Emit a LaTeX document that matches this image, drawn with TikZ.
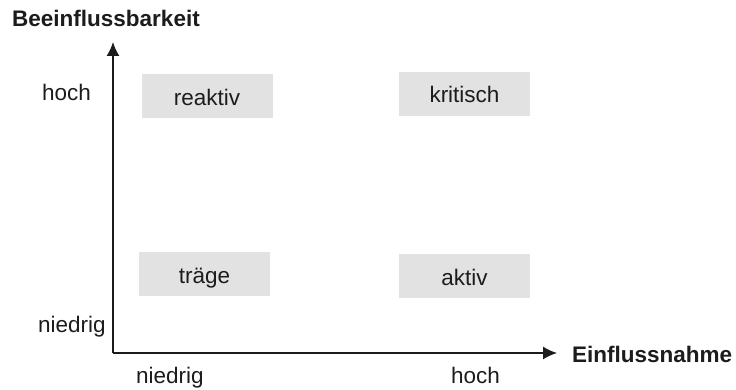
\documentclass[tikz,border=0pt]{standalone}
\usepackage{fontspec}
\setmainfont{Liberation Sans}
\usetikzlibrary{arrows.meta}
\definecolor{inkgray}{HTML}{1C1C1C}
\definecolor{boxgray}{HTML}{E2E2E2}
\begin{document}
\begin{tikzpicture}[x=1pt,y=-1pt,
  every node/.style={inner sep=0pt,text=inkgray,font=\fontsize{22.5}{26}\selectfont},
  quadrant/.style={fill=boxgray,draw=none,minimum width=131pt,minimum height=44pt,
    text height=18pt,text depth=0pt},
  axislabel/.style={anchor=base west},
  axistitle/.style={anchor=base west,font=\fontsize{22.5}{26}\selectfont\bfseries},
  axisline/.style={draw=inkgray,line width=1.5pt,-{Latex[length=14pt,width=13pt]}}]
\useasboundingbox (0,0) rectangle (736,390);

% axes
\coordinate (origin) at (113,353);
\coordinate (ytip) at (113,42);
\coordinate (xtip) at (557,353);
\draw[axisline] (origin) -- (ytip);
\draw[axisline] (origin) -- (xtip);

% axis titles
\node[axistitle] (ytitle) at (12,27) {Beeinflussbarkeit};
\node[axistitle] (xtitle) at (572,362) {Einflussnahme};

% scale labels
\node[axislabel] (yhigh) at (42,101) {hoch};
\node[axislabel] (ylow) at (38,332) {niedrig};
\node[axislabel] (xlow) at (136,383) {niedrig};
\node[axislabel] (xhigh) at (451,383) {hoch};

% quadrants
\node[quadrant] (reaktiv) at (207,96.5) {reaktiv};
\node[quadrant] (kritisch) at (464.5,94) {kritisch};
\node[quadrant] (traege) at (204.5,274) {träge};
\node[quadrant] (aktiv) at (464.5,276) {aktiv};
\end{tikzpicture}
\end{document}
